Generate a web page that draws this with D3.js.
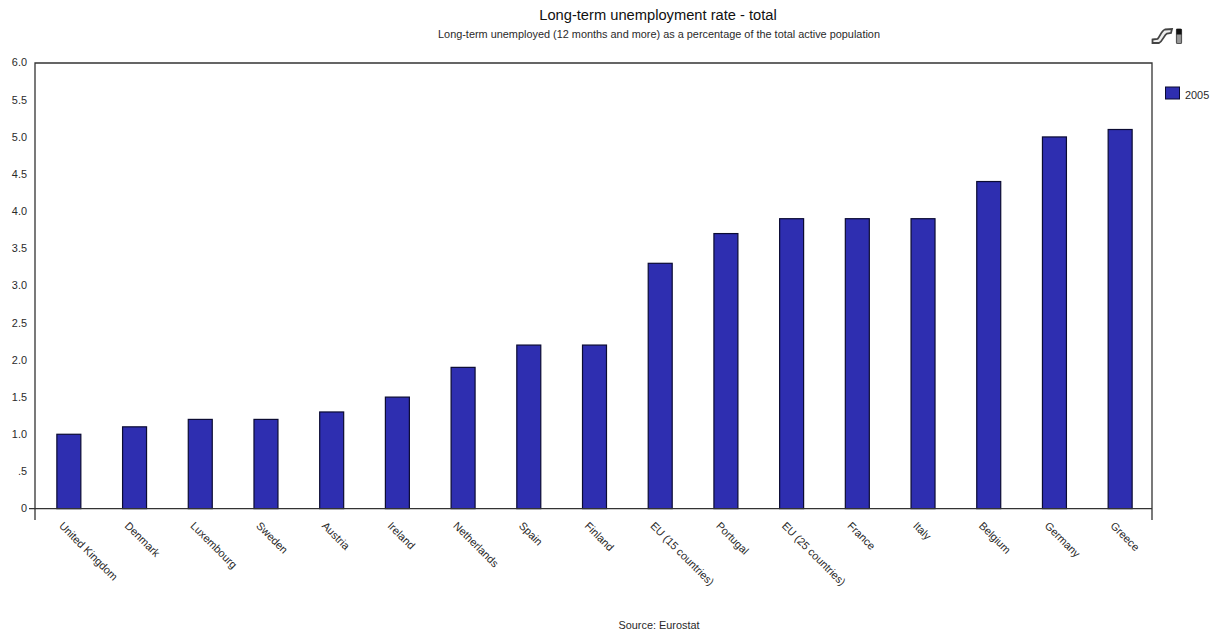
<!DOCTYPE html>
<html>
<head>
<meta charset="utf-8">
<script src="https://cdn.jsdelivr.net/npm/d3@7"></script>
<style>
  html, body { margin: 0; padding: 0; background: #fff; }
  text { font-family: "Liberation Sans", Arial, sans-serif; fill: #2a2a2a; }
</style>
</head>
<body>
<svg id="chart" width="1219" height="635"></svg>
<script>
const countries = ["United Kingdom", "Denmark", "Luxembourg", "Sweden", "Austria", "Ireland",
  "Netherlands", "Spain", "Finland", "EU (15 countries)", "Portugal", "EU (25 countries)",
  "France", "Italy", "Belgium", "Germany", "Greece"];
const rates2005 = [1.0, 1.1, 1.2, 1.2, 1.3, 1.5, 1.9, 2.2, 2.2, 3.3, 3.7, 3.9, 3.9, 3.9, 4.4, 5.0, 5.1];
const yTicks = [0, 0.5, 1, 1.5, 2, 2.5, 3, 3.5, 4, 4.5, 5, 5.5, 6];
const seriesName = "2005";

const svg = d3.select("#chart");
const frame = { left: 35, right: 1152, top: 63, bottom: 509, stem: 520 };
const axisColor = "#333";
const barColor = "#2e2eb0";
const smallText = 10.9;

const x = d3.scaleBand().domain(countries).range([frame.left + 1, frame.right + 1]).paddingInner(0.635).paddingOuter(0.3175);
const y = d3.scaleLinear().domain([0, 6]).range([frame.bottom - 0.4, frame.top - 0.4]);

// Headings
svg.append("text").attr("x", 658).attr("y", 20).attr("text-anchor", "middle")
  .attr("font-size", 14.7).style("fill", "#111").text("Long-term unemployment rate - total");
svg.append("text").attr("x", 659).attr("y", 38).attr("text-anchor", "middle")
  .attr("font-size", smallText).text("Long-term unemployed (12 months and more) as a percentage of the total active population");
svg.append("text").attr("x", 659).attr("y", 629).attr("text-anchor", "middle")
  .attr("font-size", smallText).text("Source: Eurostat");

// Bars
svg.append("g").selectAll("rect").data(countries).join("rect")
  .attr("x", d => x(d))
  .attr("y", (d, i) => y(rates2005[i]))
  .attr("width", x.bandwidth())
  .attr("height", (d, i) => y(0) - y(rates2005[i]))
  .attr("fill", barColor)
  .attr("stroke", "#0b0b33")
  .attr("stroke-width", 1.2);

// Frame: top and side rules run past the baseline down to the stems
const framePath = d3.path();
framePath.moveTo(frame.left, frame.stem);
framePath.lineTo(frame.left, frame.top);
framePath.lineTo(frame.right, frame.top);
framePath.lineTo(frame.right, frame.stem);
svg.append("path").attr("d", framePath.toString()).attr("fill", "none")
  .attr("stroke", axisColor).attr("stroke-width", 1.3);

// Baseline with its small overhang to the left
svg.append("line").attr("x1", 29).attr("x2", frame.right)
  .attr("y1", y(0)).attr("y2", y(0))
  .attr("stroke", axisColor).attr("stroke-width", 1.3);

// Value labels; the leading zero is dropped on .5
const formatTick = v => v === 0 ? "0" : v === 0.5 ? ".5" : d3.format(".1f")(v);
const yAxis = d3.axisLeft(y).tickValues(yTicks).tickSize(0).tickPadding(8).tickFormat(formatTick);
const yG = svg.append("g").attr("transform", `translate(${frame.left},0)`).call(yAxis);
yG.select(".domain").remove();
yG.selectAll("text").attr("font-size", smallText).attr("font-family", null).attr("dy", "0.3em");

// Slanted country labels
const xAxis = d3.axisBottom(x).tickSize(0).tickPadding(0);
const xG = svg.append("g").attr("transform", `translate(0,${frame.bottom})`).call(xAxis);
xG.select(".domain").remove();
xG.selectAll("text")
  .attr("font-size", smallText)
  .attr("font-family", null)
  .attr("text-anchor", "start")
  .attr("transform", "translate(-8,15) rotate(45)")
  .attr("x", 0).attr("y", 0).attr("dy", "0.32em");

// Legend
svg.append("rect").attr("x", 1165.5).attr("y", 87).attr("width", 14).attr("height", 12)
  .attr("fill", barColor).attr("stroke", "#0b0b33").attr("stroke-width", 1);
svg.append("text").attr("x", 1185).attr("y", 98.5).attr("font-size", smallText).text(seriesName);

// Small export icon above the legend
const icon = svg.append("g").attr("transform", "translate(1151,28)");
icon.append("path").attr("d", "M1.5 11.5 L6.5 11 C9 9 10 3 14 1.5 L21 1 L20 5 L16 5.5 C13 7 12 13 8 15 L1.5 15 Z")
  .attr("fill", "#eee").attr("stroke", "#444").attr("stroke-width", 1.8);
icon.append("rect").attr("x", 25.5).attr("y", 1).attr("width", 5).attr("height", 14.5).attr("rx", 1)
  .attr("fill", "#999").attr("stroke", "#555").attr("stroke-width", 1.2);
icon.append("rect").attr("x", 25.5).attr("y", 1).attr("width", 5).attr("height", 5.5).attr("fill", "#111");
</script>
</body>
</html>
